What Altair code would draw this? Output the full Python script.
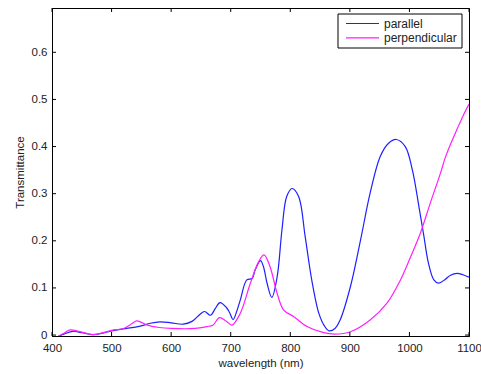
import altair as alt
import pandas as pd

# Transmittance spectra for the two polarisations
par_nm = [410, 420, 435, 450, 467, 485, 500, 520, 548, 565, 581, 600, 620, 635, 645,
          656, 666, 674, 682, 693, 698, 704, 710, 716, 727, 736, 741, 750, 755, 761,
          769, 778, 786, 794, 803, 814, 825, 836, 848, 857, 865, 875, 884, 901,
          918, 934, 951, 965, 978, 993, 1005, 1016, 1024, 1032, 1041, 1049, 1060,
          1069, 1080, 1090, 1100]
par_t = [-0.003, 0.002, 0.008, 0.005, 0.001, 0.004, 0.009, 0.013, 0.019, 0.025, 0.028,
         0.026, 0.023, 0.029, 0.040, 0.050, 0.042, 0.056, 0.069, 0.058, 0.048, 0.033,
         0.050, 0.074, 0.117, 0.120, 0.138, 0.158, 0.145, 0.110, 0.080, 0.124, 0.223,
         0.294, 0.311, 0.294, 0.209, 0.117, 0.046, 0.020, 0.009, 0.014, 0.033, 0.103,
         0.202, 0.301, 0.379, 0.407, 0.415, 0.400, 0.350, 0.272, 0.212, 0.152, 0.117,
         0.110, 0.118, 0.127, 0.131, 0.128, 0.123]

perp_nm = [410, 420, 430, 445, 470, 500, 520, 535, 542, 550, 560, 580, 600, 640, 660,
           670, 681, 692, 702, 716, 733, 747, 756, 766, 778, 789, 806, 828, 856, 875,
           901, 934, 962, 985, 1002, 1018, 1035, 1052, 1060, 1069, 1080, 1090, 1100]
perp_t = [-0.003, 0.004, 0.011, 0.008, 0.001, 0.010, 0.014, 0.025, 0.030, 0.027, 0.021,
          0.016, 0.014, 0.014, 0.018, 0.021, 0.037, 0.030, 0.021, 0.046, 0.110, 0.156,
          0.170, 0.145, 0.088, 0.053, 0.039, 0.018, 0.005, 0.002, 0.007, 0.032, 0.067,
          0.117, 0.166, 0.215, 0.280, 0.343, 0.376, 0.405, 0.437, 0.465, 0.490]

series_names = ["parallel", "perpendicular"]
series_colors = ["#1f1fff", "#ff1fff"]

x_ticks = [400, 500, 600, 700, 800, 900, 1000, 1100]
y_ticks = [0, 0.1, 0.2, 0.3, 0.4, 0.5, 0.6]

spectra = pd.concat([
    pd.DataFrame({"wavelength": par_nm, "T": par_t, "pol": series_names[0]}),
    pd.DataFrame({"wavelength": perp_nm, "T": perp_t, "pol": series_names[1]}),
])

W, H = 417, 328
TICK = 4
FONT = "Liberation Sans"

x_scale = alt.Scale(domain=[400, 1100], nice=False, zero=False)
y_scale = alt.Scale(domain=[-0.002, 0.694], nice=False, zero=False)

lines = alt.Chart(spectra).mark_line(strokeWidth=1.2, interpolate="catmull-rom", clip=True).encode(
    x=alt.X("wavelength:Q", scale=x_scale,
            axis=alt.Axis(values=x_ticks, title="wavelength (nm)", tickSize=0,
                          labelPadding=6, titlePadding=4, grid=False, format="d",
                          labelFlush=False, labelOverlap=False)),
    y=alt.Y("T:Q", scale=y_scale,
            axis=alt.Axis(values=y_ticks, title="Transmittance", tickSize=0,
                          labelPadding=5, titlePadding=6, grid=False,
                          labelFlush=False, labelOverlap=False,
                          labelExpr="datum.value == 0 ? '0' : format(datum.value, '.1f')")),
    color=alt.Color("pol:N", scale=alt.Scale(domain=series_names, range=series_colors),
                    legend=None),
)

xt = pd.DataFrame({"v": x_ticks})
yt = pd.DataFrame({"v": y_ticks})

# inward tick marks on all four sides
bottom_ticks = alt.Chart(xt).mark_rule(color="black").encode(
    x=alt.X("v:Q", scale=x_scale), y=alt.value(H), y2=alt.value(H - TICK))
top_ticks = alt.Chart(xt).mark_rule(color="black").encode(
    x=alt.X("v:Q", scale=x_scale), y=alt.value(0), y2=alt.value(TICK))
left_ticks = alt.Chart(yt).mark_rule(color="black").encode(
    y=alt.Y("v:Q", scale=y_scale), x=alt.value(0), x2=alt.value(TICK))
right_ticks = alt.Chart(yt).mark_rule(color="black").encode(
    y=alt.Y("v:Q", scale=y_scale), x=alt.value(W), x2=alt.value(W - TICK))

# boxed legend in the upper right corner
one = pd.DataFrame({"k": [0]})
legend_box = alt.Chart(one).mark_rect(fill="white", stroke="black", strokeWidth=1).encode(
    x=alt.value(286), x2=alt.value(410), y=alt.value(6), y2=alt.value(40))
legend_parts = [legend_box]
for i, (name, col) in enumerate(zip(series_names, series_colors)):
    ly = 15.5 + 14.3 * i
    legend_parts.append(alt.Chart(one).mark_rule(color=col, strokeWidth=1.2).encode(
        x=alt.value(294), x2=alt.value(327), y=alt.value(ly)))
    legend_parts.append(alt.Chart(one).mark_text(
        align="left", baseline="middle", font=FONT, fontSize=12, color="#222").encode(
        x=alt.value(332), y=alt.value(ly), text=alt.value(name)))

chart = alt.layer(lines, bottom_ticks, top_ticks, left_ticks, right_ticks,
                  *legend_parts).properties(
    width=W, height=H,
    padding={"left": 52, "top": 8, "right": 12, "bottom": 38},
    autosize=alt.AutoSizeParams(type="none"),
    background="white",
).configure_view(
    stroke="black", strokeWidth=1
).configure_axis(
    domainColor="black", domainWidth=1, labelFont=FONT, titleFont=FONT,
    labelFontSize=11.5, titleFontSize=11.5, labelColor="#222", titleColor="#222",
    titleFontWeight="normal"
)

chart.save("out.html", embed_options={"renderer": "svg", "actions": False})
